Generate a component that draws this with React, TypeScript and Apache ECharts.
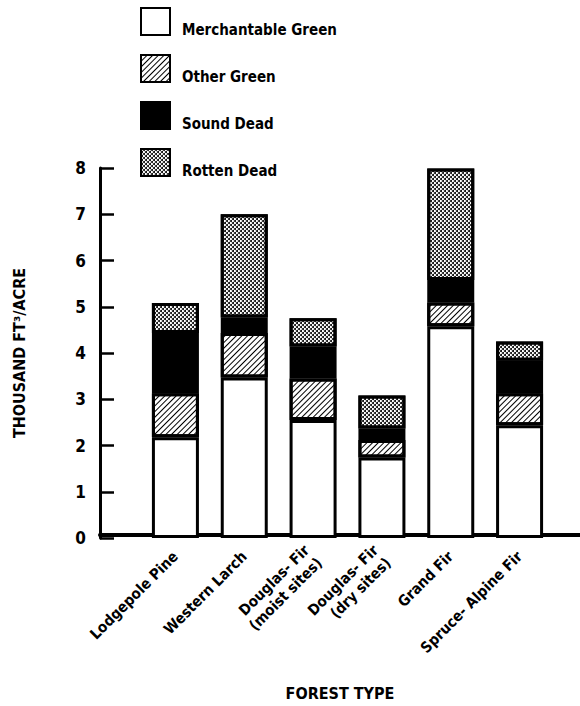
import React, { useEffect, useRef } from "react";
import * as echarts from "echarts";

const categories = [
  "Lodgepole Pine",
  "Western Larch",
  "Douglas- Fir\n(moist sites)",
  "Douglas- Fir\n(dry sites)",
  "Grand Fir",
  "Spruce- Alpine Fir",
];
const merchantableGreen = [2.18, 3.47, 2.55, 1.74, 4.58, 2.44];
const otherGreen = [0.95, 0.96, 0.9, 0.38, 0.51, 0.69];
const soundDead = [1.3, 0.34, 0.69, 0.25, 0.49, 0.7];
const rottenDead = [0.65, 2.23, 0.61, 0.71, 2.41, 0.42];
const seriesNames = ["Merchantable Green", "Other Green", "Sound Dead", "Rotten Dead"];

const FONT = "'DejaVu Sans Condensed', 'DejaVu Sans', sans-serif";

export default function App() {
  const ref = useRef<HTMLDivElement>(null);
  useEffect(() => {
    if (!ref.current) return;
    const chart = echarts.init(ref.current, null, { renderer: "svg" });
    const border = { borderColor: "#000", borderWidth: 3 };
    const textBase = { fontFamily: FONT, fontWeight: "bold" as const, color: "#000" };
    chart.setOption({
      animation: false,
      backgroundColor: "#fff",
      textStyle: { fontFamily: FONT },
      legend: {
        orient: "vertical",
        left: 140,
        top: 7,
        padding: 0,
        itemWidth: 29,
        itemHeight: 27,
        itemGap: 17,
        icon: "rect",
        selectedMode: false,
        data: seriesNames,
        formatter: (n: string) => `{s| }\n{t|${n}}`,
        textStyle: {
          ...textBase,
          fontSize: 15,
          padding: [0, 0, 0, 7],
          rich: {
            s: { fontSize: 2, lineHeight: 16 },
            t: { ...textBase, fontSize: 15, lineHeight: 18 },
          },
        },
      },
      grid: [
        { left: 141, right: 26, top: 168, bottom: 168 },
        { left: 100, right: 0, top: 168, bottom: 168 },
      ],
      xAxis: [
        {
          type: "category",
          gridIndex: 0,
          data: categories,
          axisLine: { show: false },
          axisTick: { show: false },
          axisLabel: { ...textBase, fontSize: 15, rotate: 45, margin: 16, lineHeight: 18, interval: 0 },
        },
        {
          type: "value",
          gridIndex: 1,
          min: 0,
          max: 1,
          axisLine: { show: true, lineStyle: { color: "#000", width: 4 } },
          axisTick: { show: false },
          axisLabel: { show: false },
          splitLine: { show: false },
          name: "FOREST TYPE",
          nameLocation: "middle",
          nameGap: 150,
          nameTextStyle: { ...textBase, fontSize: 16 },
        },
      ],
      yAxis: [
        {
          type: "value",
          gridIndex: 0,
          min: 0,
          max: 8,
          interval: 1,
          offset: 41,
          axisLine: { show: true, lineStyle: { color: "#000", width: 3 } },
          axisTick: { show: true, inside: true, length: 14, lineStyle: { color: "#000", width: 2.5 } },
          axisLabel: { ...textBase, fontSize: 17, margin: 14 },
          splitLine: { show: false },
          name: "THOUSAND FT³/ACRE",
          nameLocation: "middle",
          nameRotate: 90,
          nameGap: 73,
          nameTextStyle: { ...textBase, fontSize: 16 },
        },
        { type: "value", gridIndex: 1, show: false, min: 0, max: 8 },
      ],
      series: [
        {
          name: seriesNames[0],
          type: "bar",
          stack: "t",
          barWidth: 47,
          data: merchantableGreen,
          itemStyle: { color: "#fff", ...border },
        },
        {
          name: seriesNames[1],
          type: "bar",
          stack: "t",
          barWidth: 47,
          data: otherGreen,
          itemStyle: {
            color: "#fff",
            ...border,
            decal: {
              symbol: "rect",
              symbolSize: 1,
              dashArrayX: [1, 0],
              dashArrayY: [1, 3],
              rotation: -Math.PI / 4,
              color: "#000",
              backgroundColor: "#fff",
            },
          },
        },
        {
          name: seriesNames[2],
          type: "bar",
          stack: "t",
          barWidth: 47,
          data: soundDead,
          itemStyle: { color: "#000", ...border },
        },
        {
          name: seriesNames[3],
          type: "bar",
          stack: "t",
          barWidth: 47,
          data: rottenDead,
          itemStyle: {
            color: "#fff",
            ...border,
            decal: {
              symbol: "circle",
              symbolSize: 1,
              dashArrayX: [[2, 2], [0, 2, 2, 0]],
              dashArrayY: [2, 0],
              color: "#000",
              backgroundColor: "#fff",
            },
          },
        },
      ],
    });
    return () => chart.dispose();
  }, []);
  return <div ref={ref} style={{ width: 580, height: 706, position: "absolute", left: 0, top: 0 }} />;
}
